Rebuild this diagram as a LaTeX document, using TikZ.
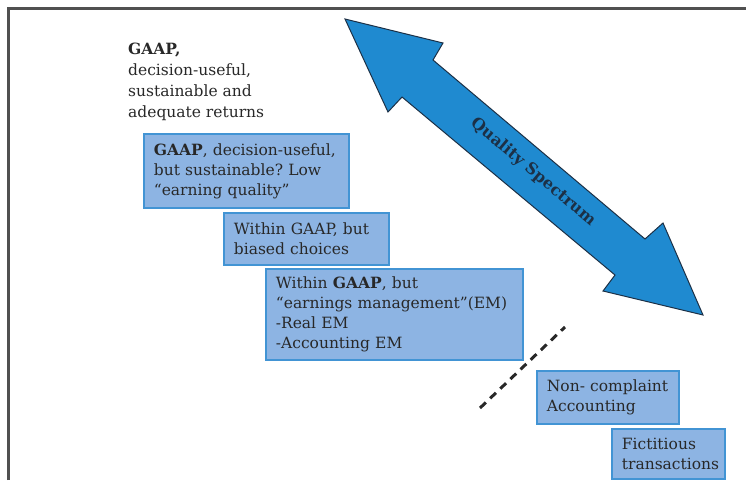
\documentclass[tikz,border=0pt]{standalone}
\usepackage{fontspec}
\setmainfont{DejaVu Serif}
\frenchspacing
\definecolor{framegray}{RGB}{80,80,80}
\definecolor{inkgray}{RGB}{40,40,40}
\definecolor{boxfill}{RGB}{141,180,227}
\definecolor{boxedge}{RGB}{66,148,212}
\definecolor{arrowfill}{RGB}{31,138,208}
\definecolor{arrowedge}{RGB}{28,48,70}
\begin{document}
\begin{tikzpicture}[x=1pt,y=-1pt,
    levelbox/.style={draw=boxedge, line width=1.8pt, fill=boxfill, anchor=north west,
      inner xsep=10pt, inner ysep=0pt, align=left, text=inkgray,
      font=\fontsize{15.5}{20}\selectfont}]
  \useasboundingbox (0,0) rectangle (746,480);
  % frame, only top and left edges show
  \draw[framegray, line width=3pt] (8.5,480) -- (8.5,8.5) -- (746,8.5);
  % the quality spectrum arrow
  \draw[arrowedge, fill=arrowfill, line width=1pt, line join=miter]
    (345,19) -- (443,43) -- (433,60) -- (645,239) -- (663,223) -- (703,315)
    -- (603,291) -- (615,275) -- (402,97) -- (388,112) -- cycle;
  \node[rotate=-40, text=arrowedge, font=\fontsize{16}{18}\selectfont\bfseries] (spectrum) at (533,172) {Quality Spectrum};
  % top level, no box
  \node[anchor=north west, inner sep=0pt, align=left, text=inkgray,
    font=\fontsize{15.5}{21}\selectfont] (top) at (128,43)
    {\textbf{GAAP,}\\decision-useful,\\sustainable and\\adequate returns};
  % boxes going down the spectrum
  \node[levelbox, minimum width=205, minimum height=74, text width=185pt] (lowq) at (143,133)
    {\textbf{GAAP}, decision-useful,\\but sustainable? Low\\“earning quality”};
  \node[levelbox, minimum width=165, minimum height=52, text width=145pt] (biased) at (223,212)
    {Within GAAP, but\\biased choices};
  \node[levelbox, minimum width=257, minimum height=91, text width=237pt] (em) at (265,268)
    {Within \textbf{GAAP}, but\\“earnings management”(EM)\\-Real EM\\-Accounting EM};
  \node[levelbox, minimum width=142, minimum height=53, text width=122pt] (noncomp) at (536,370)
    {Non- complaint\\Accounting};
  \node[levelbox, minimum width=113, minimum height=50, text width=93pt] (fict) at (611,428)
    {Fictitious\\transactions};
  % cut between GAAP and non-GAAP
  \coordinate (cutlo) at (480,408);
  \coordinate (cuthi) at (565,327);
  \draw[inkgray, line width=3pt, dash pattern=on 8pt off 6pt] (cutlo) -- (cuthi);
\end{tikzpicture}
\end{document}
